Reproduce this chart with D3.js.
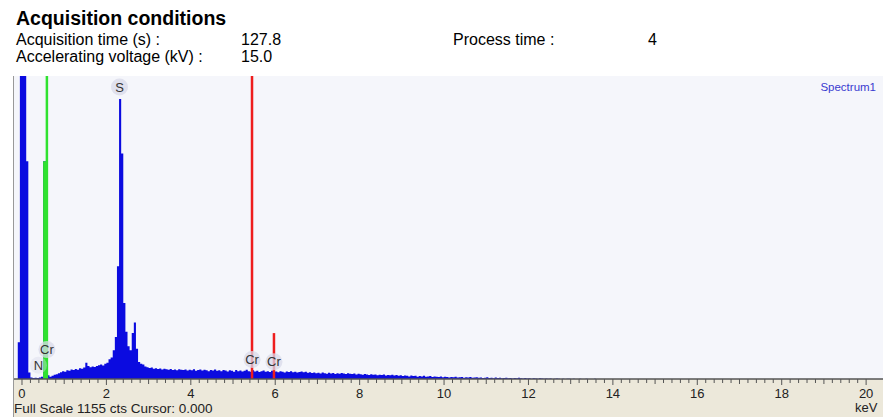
<!DOCTYPE html>
<html>
<head>
<meta charset="utf-8">
<script src="https://cdn.jsdelivr.net/npm/d3@7/dist/d3.min.js"></script>
<style>
  body { margin: 0; background: #ffffff; }
  text { font-family: "Liberation Sans", Arial, sans-serif; }
</style>
</head>
<body>
<div id="chart"></div>
<script>
// Header info.
var headerRows = [
    ["Acquisition time (s) :", "127.8"],
    ["Accelerating voltage (kV) :", "15.0"]
];
var processLabel = ["Process time :", "4"];

// Spectrum: counts per 0.05 keV channel, first channel at -0.20 keV.
var channelStart = -0.2;
var channelStep = 0.05;
var counts = [
    0, 0, 140, 2000, 2000, 2000, 830, 25, 6, 4, 5, 4, 6, 9, 830, 830, 14, 9, 12, 16,
    18, 22, 26, 30, 28, 33, 31, 36, 34, 38, 35, 41, 39, 44, 62, 50, 45, 48, 46, 50,
    52, 55, 51, 58, 62, 75, 82, 110, 160, 430, 1067, 860, 290, 180, 125, 110, 175, 215, 115, 65,
    58, 55, 48, 45, 42, 44, 39, 41, 38, 40, 36, 39, 37, 35, 38, 34, 36, 33, 37, 35,
    34, 36, 32, 35, 33, 37, 31, 34, 36, 32, 35, 33, 30, 34, 32, 36, 31, 33, 30, 34,
    32, 29, 33, 31, 28, 34, 30, 32, 29, 31, 35, 30, 28, 33, 29, 31, 27, 30, 32, 28,
    30, 27, 31, 28, 29, 26, 30, 28, 25, 29, 27, 30, 26, 28, 25, 27, 29, 26, 28, 24,
    26, 23, 25, 22, 24, 21, 25, 22, 20, 24, 21, 23, 19, 22, 20, 23, 21, 19, 22, 20,
    19, 21, 17, 20, 18, 16, 19, 17, 15, 18, 16, 17, 14, 16, 15, 17, 13, 15, 14, 16,
    13, 15, 12, 14, 11, 13, 12, 10, 13, 11, 12, 9, 11, 10, 12, 9, 10, 11, 8, 10,
    9, 8, 10, 7, 9, 8, 6, 8, 7, 9, 6, 7, 8, 5, 7, 6, 8, 5, 6, 7,
    5, 6, 4, 5, 7, 4, 5, 3, 6, 4, 5, 3, 4, 5, 3, 4, 2, 4, 3, 5,
    3, 2, 4, 2, 3, 1, 3, 2, 1, 3, 2, 1, 2, 1, 2, 0, 1, 2, 1, 0,
    1, 0, 1, 1, 0, 1, 0, 0, 1, 0, 0, 1, 0, 0, 0, 1, 0, 0, 0, 0
];
// Channels drawn green (highlighted region).
var greenRange = [0.48, 0.58];

// Element marker lines: energy keV, height cts (above full scale = full height), colour.
var markerEnergy = [0.59, 5.45, 5.97];
var markerHeight = [2000, 2000, 175];
var markerColor = ["#2fe22f", "#ee1d1d", "#ee1d1d"];

// Element labels: text, energy keV, cts.
var labelText = ["S", "Cr", "N", "Cr", "Cr"];
var labelEnergy = [2.31, 0.59, 0.39, 5.45, 5.97];
var labelCounts = [1113, 112, 52, 74, 66];

var fullScale = 1155;
var xTicks = [0, 2, 4, 6, 8, 10, 12, 14, 16, 18, 20];

var svgWidth = 883;
var svgHeight = 417;

var plot = { left: 13, right: 883, top: 76, bottom: 379 };

var svg = d3.select("#chart")
    .append("svg")
    .attr("width", svgWidth)
    .attr("height", svgHeight);

// Header block.
svg.append("text")
    .attr("x", 16)
    .attr("y", 25)
    .style("font-size", "19.5px")
    .style("font-weight", "bold")
    .text("Acquisition conditions");

headerRows.forEach(function(row, i) {
    svg.append("text")
        .attr("x", 16)
        .attr("y", 45 + i * 17)
        .style("font-size", "16px")
        .text(row[0]);
    svg.append("text")
        .attr("x", 241)
        .attr("y", 45 + i * 17)
        .style("font-size", "16px")
        .text(row[1]);
});

svg.append("text")
    .attr("x", 453)
    .attr("y", 45)
    .style("font-size", "16px")
    .text(processLabel[0]);
svg.append("text")
    .attr("x", 648)
    .attr("y", 45)
    .style("font-size", "16px")
    .text(processLabel[1]);

// Scales.
var xScale = d3.scaleLinear()
    .domain([-0.213, 20.4])
    .range([plot.left, plot.right]);

var yScale = d3.scaleLinear()
    .domain([0, fullScale])
    .range([plot.bottom, plot.top])
    .clamp(true);

// Backgrounds.
svg.append("rect")
    .attr("x", plot.left)
    .attr("y", plot.top)
    .attr("width", plot.right - plot.left)
    .attr("height", plot.bottom - plot.top)
    .attr("fill", "#f5f6fb");

svg.append("rect")
    .attr("x", plot.left)
    .attr("y", plot.bottom)
    .attr("width", plot.right - plot.left)
    .attr("height", svgHeight - plot.bottom)
    .attr("fill", "#ece8da");

// Spectrum data.
var spectrum = counts.map(function(c, i) {
    return { e: channelStart + i * channelStep, c: c };
});
spectrum.push({ e: channelStart + counts.length * channelStep, c: 0 });

var area = d3.area()
    .curve(d3.curveStepAfter)
    .x(d => xScale(d.e))
    .y0(yScale(0))
    .y1(d => yScale(d.c));

svg.append("path")
    .datum(spectrum)
    .attr("d", area)
    .attr("fill", "#0b0be0");

var greenPart = spectrum.filter(d => d.e >= greenRange[0] && d.e <= greenRange[1] + 0.06);
greenPart = greenPart.map(function(d) {
    return { e: d.e, c: d.e > greenRange[1] ? 0 : d.c };
});
svg.append("path")
    .datum(greenPart)
    .attr("d", area)
    .attr("fill", "#2fe22f");

// Marker lines.
svg.selectAll(".marker")
    .data(markerEnergy)
    .enter()
    .append("line")
    .attr("class", "marker")
    .attr("x1", d => xScale(d))
    .attr("x2", d => xScale(d))
    .attr("y1", yScale(0))
    .attr("y2", (d, i) => yScale(markerHeight[i]))
    .attr("stroke", (d, i) => markerColor[i])
    .attr("stroke-width", 2.5);

// Element labels with faint circles.
var labels = svg.selectAll(".elabel")
    .data(labelText)
    .enter()
    .append("g")
    .attr("class", "elabel")
    .attr("transform", (d, i) => `translate(${xScale(labelEnergy[i])}, ${yScale(labelCounts[i])})`);

labels.append("circle")
    .attr("r", 8.5)
    .attr("fill", "#d8d9ea")
    .attr("opacity", (d, i) => i === 2 ? 0.4 : 0.75);

labels.append("text")
    .attr("y", 4.5)
    .style("font-size", "13px")
    .style("text-anchor", "middle")
    .style("fill", "#333")
    .text(d => d);

// Spectrum name.
svg.append("text")
    .attr("x", 876)
    .attr("y", 91)
    .style("font-size", "11.5px")
    .style("text-anchor", "end")
    .style("fill", "#3a3ad0")
    .text("Spectrum1");

// X axis line and ticks.
svg.append("line")
    .attr("x1", plot.left)
    .attr("x2", plot.right)
    .attr("y1", plot.bottom)
    .attr("y2", plot.bottom)
    .attr("stroke", "#555")
    .attr("stroke-width", 1.5);

var minorTicks = d3.range(0, 101).map(d => d * 0.2);
svg.selectAll(".tick")
    .data(minorTicks)
    .enter()
    .append("line")
    .attr("class", "tick")
    .attr("x1", d => xScale(d))
    .attr("x2", d => xScale(d))
    .attr("y1", plot.bottom)
    .attr("y2", function(d, i) {
        if (i % 10 === 0) return plot.bottom + 6;
        if (i % 5 === 0) return plot.bottom + 5;
        return plot.bottom + 4;
    })
    .attr("stroke", "#555")
    .attr("stroke-width", 1);

svg.selectAll(".tlabel")
    .data(xTicks)
    .enter()
    .append("text")
    .attr("class", "tlabel")
    .attr("x", d => xScale(d))
    .attr("y", 398)
    .style("font-size", "13px")
    .style("text-anchor", "middle")
    .style("fill", "#222")
    .text(d => d);

svg.append("text")
    .attr("x", xScale(20))
    .attr("y", 412)
    .style("font-size", "13px")
    .style("text-anchor", "middle")
    .style("fill", "#222")
    .text("keV");

svg.append("text")
    .attr("x", 14)
    .attr("y", 413)
    .style("font-size", "13.5px")
    .style("fill", "#222")
    .text("Full Scale " + fullScale + " cts Cursor: 0.000");

// Left border.
svg.append("line")
    .attr("x1", plot.left + 0.5)
    .attr("x2", plot.left + 0.5)
    .attr("y1", plot.top)
    .attr("y2", svgHeight)
    .attr("stroke", "#999")
    .attr("stroke-width", 1);
</script>
</body>
</html>
